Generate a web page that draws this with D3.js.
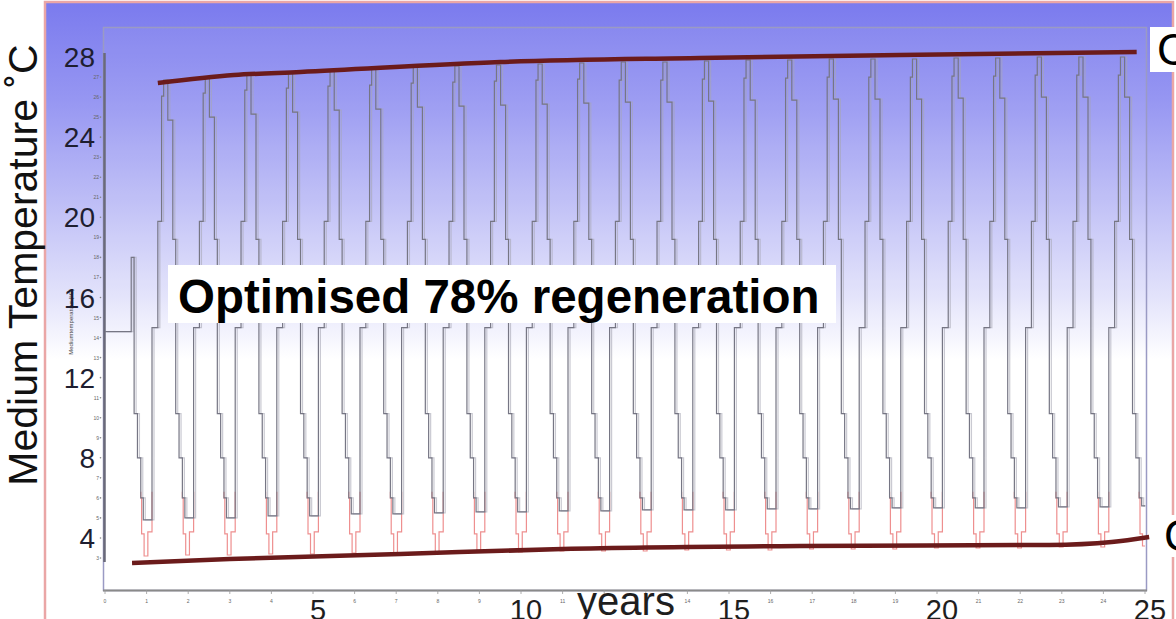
<!DOCTYPE html>
<html lang="en">
<head>
<meta charset="utf-8">
<script src="https://d3js.org/d3.v7.min.js"></script>
<style>
  body { margin: 0; background: #fff; }
  text { font-family: "Liberation Sans", Arial, sans-serif; }
</style>
</head>
<body>
<script>
// ---- data ----
// start of the run: flat level, then a short spike before the first cooling
var startTimes = [0, 0.63];
var startTemps = [14.3, 18.0];

// one seasonal cycle (phase within a year) - levels in degC
var grayPhase = [0.13, 0.27, 0.36, 0.41, 0.51, 0.63, 0.70, 0.78, 0.86, 0.92];
var grayLevel = [14.5, 19.8, "rise", "peak", "fall", 18.9, 10.2, 8.0, 6.0, "well"];
var redPhase  = [0.03, 0.13, 0.27, 0.36, 0.41, 0.51, 0.63, 0.70, 0.78, 0.86, 0.88, 0.94];
var redLevel  = [4.3, 14.5, 19.8, "rise", "peak", "fall", 18.9, 10.2, 8.0, 6.0, 4.2, "well"];

// summer peaks, years 1..24
var peakTemps = [26.85, 27.0, 27.15, 27.25, 27.35, 27.4, 27.5, 27.55, 27.6, 27.65, 27.7, 27.75,
                 27.75, 27.8, 27.85, 27.85, 27.9, 27.9, 27.9, 27.95, 27.95, 28.0, 28.0, 28.0];
var riseShoulder = [0.8, 0.9];   // step below peak on the way up (start, end of run)
var fallShoulder = 2.0;          // step below peak on the way down
// winter minimum, years 0..24
var grayWells = [4.9, 5.0, 5.0, 5.1, 5.1, 5.2, 5.2, 5.25, 5.3, 5.3, 5.35, 5.35, 5.4,
                 5.4, 5.4, 5.45, 5.45, 5.45, 5.5, 5.5, 5.5, 5.5, 5.55, 5.55, 5.6];
var redWells  = [3.1, 3.15, 3.15, 3.2, 3.2, 3.25, 3.25, 3.3, 3.3, 3.3, 3.35, 3.35, 3.35,
                 3.4, 3.4, 3.4, 3.45, 3.45, 3.45, 3.5, 3.5, 3.5, 3.55, 3.55, 3.6];

// hand drawn trend lines
var topTrendYears = [1.27, 3.1, 4.7, 9.5, 14.3, 19.1, 24.8];
var topTrendTemps = [26.7, 27.1, 27.25, 27.75, 27.95, 28.1, 28.25];
var lowTrendYears = [0.65, 3.0, 7.1, 11.0, 16.7, 22.7, 24.2, 25.1];
var lowTrendTemps = [2.75, 2.95, 3.2, 3.45, 3.6, 3.65, 3.8, 4.05];

var bigYTicks = [4, 8, 12, 16, 20, 24, 28];
var bigXTicks = [5, 10, 15, 20, 25];

// ---- build the step series ----
function buildSeries(phases, levels, wells) {
  var pts = startTimes.map(function(t, i) { return {t: t, v: startTemps[i]}; });
  for (var yr = 0; yr < 25; yr++) {
    phases.forEach(function(p, i) {
      var t = yr + p;
      if (t < 0.70) return;
      var lv = levels[i];
      var pk = peakTemps[Math.max(0, yr - 1)];
      var rs = yr < 12 ? riseShoulder[0] : riseShoulder[1];
      if (lv === "peak") lv = pk;
      else if (lv === "rise") lv = pk - rs;
      else if (lv === "fall") lv = pk - fallShoulder;
      else if (lv === "well") lv = wells[yr];
      pts.push({t: t, v: lv});
    });
  }
  pts = pts.filter(function(d) { return d.t <= 25; });
  pts.push({t: 25, v: pts[pts.length - 1].v});
  return pts;
}
var graySeries = buildSeries(grayPhase, grayLevel, grayWells);
var redSeries = buildSeries(redPhase, redLevel, redWells);

var W = 1176, H = 619;
var svg = d3.select("body").append("svg")
    .attr("width", W).attr("height", H);

var x = d3.scaleLinear().domain([0, 25]).range([105, 1145]);
var y = d3.scaleLinear().domain([3, 28]).range([558, 57]);

var defs = svg.append("defs");
var grad = defs.append("linearGradient").attr("id", "bg")
    .attr("gradientUnits", "userSpaceOnUse")
    .attr("x1", 0).attr("y1", 0).attr("x2", 0).attr("y2", H);
[[0, "#7a7aee"], [0.16, "#9696f2"], [0.32, "#bcbcf6"], [0.48, "#e3e3fb"], [0.58, "#ffffff"]]
  .forEach(function(s) { grad.append("stop").attr("offset", s[0]).attr("stop-color", s[1]); });
defs.append("clipPath").attr("id", "plot")
  .append("rect").attr("x", 104).attr("y", 28).attr("width", 1042).attr("height", 562);
// the red trace only shows where it drops below the grey one
defs.append("clipPath").attr("id", "lowpart")
  .append("rect").attr("x", 104).attr("y", y(6.3)).attr("width", 1042).attr("height", 590 - y(6.3));

// slide background
svg.append("rect").attr("x", 45).attr("y", 2).attr("width", 1128).attr("height", 660)
    .attr("fill", "url(#bg)").attr("stroke", "#eaa6a6").attr("stroke-width", 2.5);

// inner plot frame
svg.append("rect").attr("x", 103.5).attr("y", 27.5).attr("width", 1043).attr("height", 563)
    .attr("fill", "#ffffff").attr("fill-opacity", 0.06)
    .attr("stroke", "#9a9ac4").attr("stroke-width", 1.5);
svg.append("line").attr("x1", 103).attr("x2", 1147).attr("y1", 590.5).attr("y2", 590.5)
    .attr("stroke", "#8a8a8a").attr("stroke-width", 2);
svg.append("line").attr("x1", 104.5).attr("x2", 104.5).attr("y1", y(28) - 4).attr("y2", y(3) + 4)
    .attr("stroke", "#6a6a7a").attr("stroke-width", 2.5);

// tiny original axis labels
var tinyY = d3.range(3, 28).filter(function(v) { return v % 4 !== 0; });
svg.append("g").selectAll("text").data(tinyY).enter().append("text")
    .attr("x", 99).attr("y", function(d) { return y(d) + 2; })
    .attr("text-anchor", "end").attr("font-size", 5).attr("fill", "#666")
    .text(function(d) { return d; });
svg.append("g").selectAll("circle").data(d3.range(3, 28)).enter().append("circle")
    .attr("cx", 100.5).attr("cy", function(d) { return y(d); }).attr("r", 0.8)
    .attr("fill", "#888");
var tinyX = d3.range(0, 26).filter(function(v) {
  return (v === 0 || v % 5 !== 0) && v !== 12 && v !== 13;
});
svg.append("g").selectAll("text").data(tinyX).enter().append("text")
    .attr("x", function(d) { return x(d); }).attr("y", 603)
    .attr("text-anchor", "middle").attr("font-size", 5).attr("fill", "#666")
    .text(function(d) { return d; });
svg.append("g").selectAll("line").data(d3.range(0, 26)).enter().append("line")
    .attr("x1", function(d) { return x(d); }).attr("x2", function(d) { return x(d); })
    .attr("y1", 590).attr("y2", 594).attr("stroke", "#999").attr("stroke-width", 0.8);
svg.append("text").attr("transform", "translate(73,322) rotate(-90)")
    .attr("text-anchor", "middle").attr("font-size", 6).attr("fill", "#444")
    .text("Mediumtemperatuur [°C]");

// temperature curves
var line = d3.line().curve(d3.curveStepAfter)
    .x(function(d) { return x(d.t); }).y(function(d) { return y(d.v); });
var curves = svg.append("g").attr("clip-path", "url(#plot)");
curves.append("g").attr("clip-path", "url(#lowpart)")
  .append("path").datum(redSeries).attr("d", line).attr("fill", "none")
    .attr("stroke", "#ee8f8f").attr("stroke-width", 1.2);
curves.append("path").datum(graySeries).attr("d", line).attr("fill", "none")
    .attr("stroke", "#a6a6b4").attr("stroke-opacity", 0.6).attr("stroke-width", 1.2)
    .attr("transform", "translate(2,0)");
curves.append("path").datum(graySeries).attr("d", line).attr("fill", "none")
    .attr("stroke", "#767684").attr("stroke-width", 1.2);

// trend lines
var trend = d3.line().curve(d3.curveMonotoneX)
    .x(function(d) { return x(d[0]); }).y(function(d) { return y(d[1]); });
svg.append("path").datum(d3.zip(topTrendYears, topTrendTemps)).attr("d", trend)
    .attr("fill", "none").attr("stroke", "#6b1b1b").attr("stroke-width", 4.5);
svg.append("path").datum(d3.zip(lowTrendYears, lowTrendTemps)).attr("d", trend)
    .attr("fill", "none").attr("stroke", "#6b1b1b").attr("stroke-width", 4.5);

// big overlaid axis labels
svg.append("g").selectAll("text").data(bigYTicks).enter().append("text")
    .attr("x", 95).attr("y", function(d) { return y(d); }).attr("dy", "0.36em")
    .attr("text-anchor", "end").attr("font-size", 28).attr("fill", "#1e1e30")
    .text(function(d) { return d; });
svg.append("g").selectAll("text").data(bigXTicks).enter().append("text")
    .attr("x", function(d) { return x(d) + 5; }).attr("y", 620)
    .attr("text-anchor", "middle").attr("font-size", 29).attr("fill", "#1e1e1e")
    .text(function(d) { return d; });
svg.append("text").attr("x", 626).attr("y", 615).attr("text-anchor", "middle")
    .attr("font-size", 40).attr("fill", "#1e1e1e").text("years");
svg.append("text").attr("transform", "translate(37,265) rotate(-90)")
    .attr("text-anchor", "middle").attr("font-size", 41).attr("fill", "#111")
    .text("Medium Temperature ˚C");

// annotation
svg.append("rect").attr("x", 168).attr("y", 265).attr("width", 668).attr("height", 58)
    .attr("fill", "#fff");
svg.append("text").attr("x", 178).attr("y", 313).attr("font-size", 47.5)
    .attr("font-weight", "bold").attr("fill", "#000").text("Optimised 78% regeneration");

// cut-off labels at right edge
svg.append("rect").attr("x", 1150).attr("y", 27).attr("width", 26).attr("height", 45).attr("fill", "#fff");
svg.append("text").attr("x", 1157).attr("y", 65).attr("font-size", 44).attr("fill", "#000").text("C");
svg.append("rect").attr("x", 1160).attr("y", 515).attr("width", 16).attr("height", 42).attr("fill", "#fff");
svg.append("text").attr("x", 1164).attr("y", 551).attr("font-size", 44).attr("fill", "#000").text("C");
</script>
</body>
</html>
